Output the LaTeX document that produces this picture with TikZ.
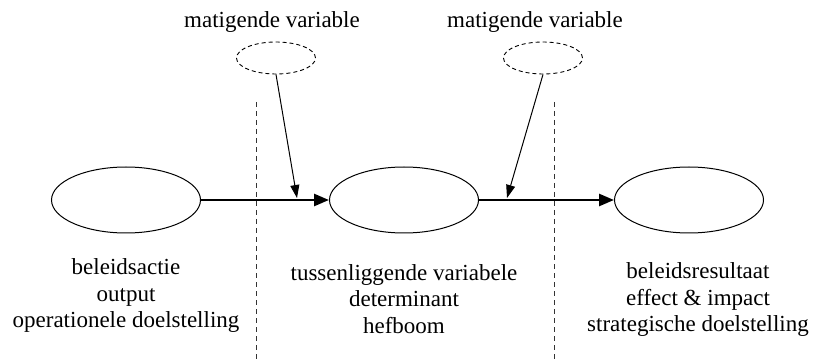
\documentclass[tikz,border=0pt]{standalone}
\usepackage{fontspec}
\setmainfont{Liberation Serif}
\usetikzlibrary{shapes.geometric,arrows.meta}
\begin{document}
\begin{tikzpicture}[x=1pt,y=-1pt,
  mainell/.style={draw,ellipse,line width=1pt,minimum width=149pt,minimum height=66pt,inner sep=0pt},
  modell/.style={draw,ellipse,dashed,dash pattern=on 4pt off 3pt,line width=0.9pt,minimum width=79pt,minimum height=32pt,inner sep=0pt},
  lbl/.style={font=\fontsize{23}{26.5}\selectfont,align=center,inner sep=0pt},
  thickarrow/.style={line width=2.5pt,-{Triangle[length=15pt,width=12pt]}},
  thinarrow/.style={line width=1pt,-{Triangle[length=13pt,width=9pt]}},
  divider/.style={line width=1pt,dash pattern=on 5pt off 4pt,black!80}]
\useasboundingbox (0,0) rectangle (813,363);
\node[mainell] (a) at (126,200) {};
\node[mainell] (b) at (404,200) {};
\node[mainell] (c) at (689,200) {};
\node[modell] (m1) at (276,58) {};
\node[modell] (m2) at (543,58) {};
\node[lbl] (tm1) at (272,22) {matigende variable};
\node[lbl] (tm2) at (535,22) {matigende variable};
\node[lbl] (la) at (126,296) {beleidsactie\\output\\operationele doelstelling};
\node[lbl] (lb) at (404,299) {tussenliggende variabele\\determinant\\hefboom};
\node[lbl] (lc) at (698,300) {beleidsresultaat\\effect \& impact\\strategische doelstelling};
\coordinate (d1t) at (256,102);
\coordinate (d1b) at (256,363);
\coordinate (d2t) at (554,102);
\coordinate (d2b) at (554,363);
\draw[divider] (d1t) -- (d1b);
\draw[divider] (d2t) -- (d2b);
\draw[thickarrow] (a.east) -- (b.west);
\draw[thickarrow] (b.east) -- (c.west);
\coordinate (t1) at (297,198);
\coordinate (t2) at (507,198);
\draw[thinarrow] (m1.south) -- (t1);
\draw[thinarrow] (m2.south) -- (t2);
\end{tikzpicture}
\end{document}
